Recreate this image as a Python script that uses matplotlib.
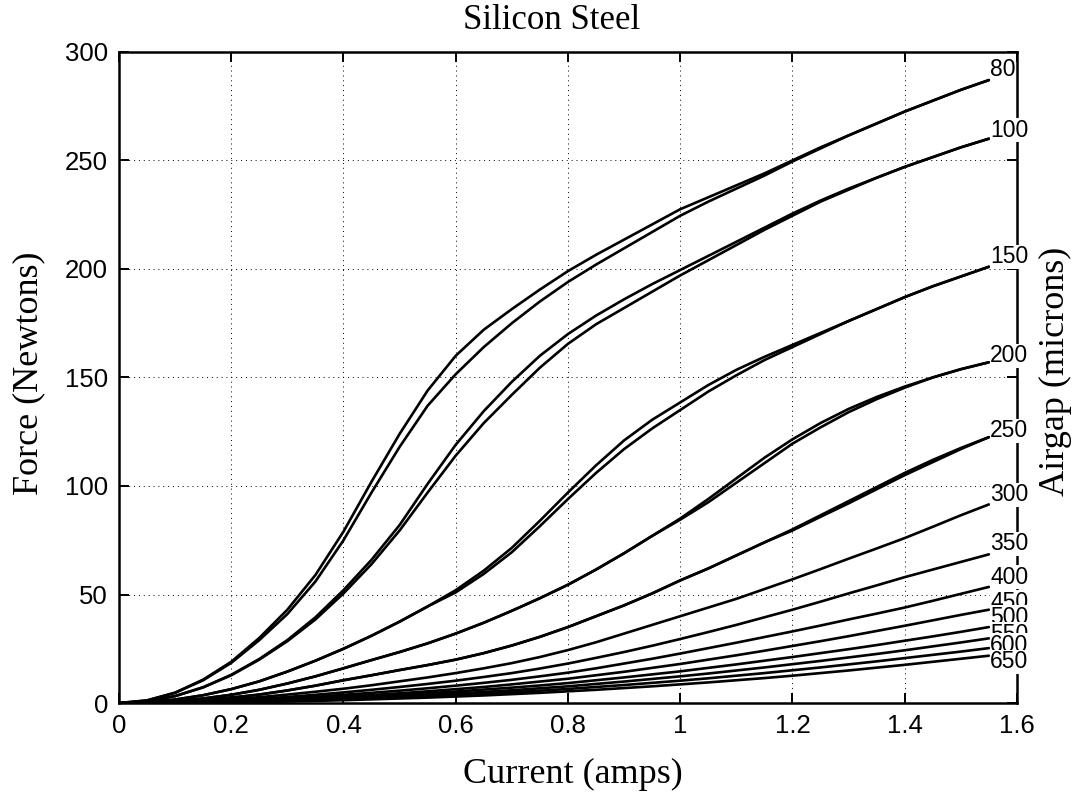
import numpy as np
import matplotlib
matplotlib.use("Agg")
import matplotlib.pyplot as plt

# current (amps) at which each curve was read
current = [0, 0.05, 0.1, 0.15, 0.2, 0.25, 0.3, 0.35, 0.4, 0.45, 0.5, 0.55, 0.6, 0.65, 0.7, 0.75,
           0.8, 0.85, 0.9, 0.95, 1.0, 1.05, 1.1, 1.15, 1.2, 1.25, 1.3, 1.35, 1.4, 1.45, 1.5, 1.55]

airgaps = [80, 100, 150, 200, 250, 300, 350, 400, 450, 500, 550, 600, 650]

# force (newtons), first branch
f80 = [0, 1.2, 4.8, 10.8, 19, 30, 43, 59, 79, 102, 124, 144, 160, 172, 181.5, 190.5,
       199, 206.5, 213.5, 220.5, 227.5, 233, 238.5, 244, 250, 256, 261.5, 267, 272.5, 277.5, 282.5, 287]
f100 = [0, 0.8, 3.2, 7.3, 13, 20.3, 29, 39.5, 52, 66, 82, 101, 119, 134.5, 148, 160,
        170, 178.5, 186, 193, 199.5, 206, 212.5, 219, 225.5, 231.5, 237, 242, 247, 251.5, 256, 260]
f150 = [0, 0.4, 1.6, 3.6, 6.4, 10, 14.5, 19.5, 25, 31, 37.5, 44.5, 52, 61, 71.5, 84,
        97, 109.5, 121, 130.5, 138.5, 146.5, 153.5, 159.5, 165, 170.5, 176, 181.5, 187, 192, 196.5, 201]
f200 = [0, 0.25, 0.9, 2.1, 3.8, 6.1, 9, 12.3, 16, 19.8, 23.5, 27.5, 32, 37, 42.5, 48.3,
        54.5, 61.5, 69, 77, 85, 94, 103.5, 113, 121.5, 129, 135.5, 141, 145.8, 150, 153.8, 157]
f250 = [0, 0.15, 0.6, 1.4, 2.5, 3.9, 5.8, 8, 10.5, 12.8, 15.2, 17.5, 20, 23, 26.5, 30.5,
        35, 40, 45, 50.5, 56.5, 62, 68, 74, 80, 86.5, 93, 99.5, 106, 112, 117.5, 122.5]
f300 = [0, 0.1, 0.4, 1, 1.7, 2.7, 3.9, 5.2, 6.6, 8.2, 10, 11.8, 13.8, 16, 18.4, 21.2,
        24.4, 28, 32, 36, 40, 44, 48, 52.5, 57, 61.7, 66.5, 71.2, 76, 81.2, 86.5, 91.5]
f350 = [0, 0.08, 0.3, 0.7, 1.2, 1.9, 2.8, 3.8, 4.9, 6.1, 7.4, 8.8, 10.3, 12, 13.8, 15.9,
        18.2, 20.8, 23.5, 26.4, 29.5, 32.7, 36, 39.5, 43, 46.7, 50.5, 54.2, 58, 61.5, 65, 68.5]
f400 = [0, 0.05, 0.2, 0.5, 0.9, 1.4, 2.1, 2.9, 3.8, 4.7, 5.7, 6.8, 8, 9.3, 10.7, 12.3,
        14, 16, 18.2, 20.4, 22.8, 25.3, 27.8, 30.4, 33, 35.7, 38.5, 41.2, 44, 47.1, 50.3, 53.5]
f450 = [0, 0.04, 0.2, 0.4, 0.7, 1.2, 1.7, 2.3, 3, 3.7, 4.5, 5.4, 6.4, 7.4, 8.6, 9.9,
        11.2, 12.8, 14.4, 16.2, 18, 20, 22, 24.1, 26.3, 28.5, 30.8, 33.2, 35.6, 38.1, 40.6, 43]
f500 = [0, 0.04, 0.15, 0.35, 0.6, 0.95, 1.4, 1.9, 2.4, 3.1, 3.8, 4.5, 5.3, 6.2, 7.1, 8.1,
        9.2, 10.5, 11.8, 13.2, 14.6, 16.2, 17.8, 19.5, 21.2, 23, 24.8, 26.7, 28.7, 30.7, 32.8, 35]
f550 = [0, 0.03, 0.12, 0.28, 0.5, 0.8, 1.1, 1.5, 2, 2.5, 3.1, 3.7, 4.4, 5.1, 5.9, 6.8,
        7.7, 8.8, 9.9, 11.1, 12.3, 13.6, 15, 16.4, 17.9, 19.4, 21, 22.6, 24.3, 26.1, 27.9, 29.8]
f600 = [0, 0.03, 0.1, 0.22, 0.4, 0.65, 0.9, 1.3, 1.7, 2.1, 2.6, 3.1, 3.7, 4.3, 5, 5.7,
        6.5, 7.4, 8.3, 9.3, 10.3, 11.4, 12.6, 13.8, 15.1, 16.4, 17.8, 19.2, 20.7, 22.2, 23.7, 25.3]
f650 = [0, 0.02, 0.08, 0.18, 0.33, 0.52, 0.75, 1, 1.3, 1.7, 2.1, 2.5, 3, 3.5, 4.1, 4.7,
        5.4, 6.1, 6.9, 7.7, 8.6, 9.5, 10.5, 11.5, 12.6, 13.8, 15, 16.3, 17.6, 19, 20.4, 21.8]

# second branch of the curves that show two lines
f80b = [0, 1.2, 4.7, 10.5, 18.5, 29, 41, 56, 75, 97, 118, 137, 151.5, 164, 175, 185,
        194, 202, 209.5, 217, 224.5, 231, 237, 243, 249.5, 255.5, 261.5, 267, 272.5, 277.5, 282.5, 287]
f100b = [0, 0.8, 3.2, 7.2, 12.8, 20, 28.5, 38.5, 50.5, 64, 79.5, 97, 114, 129, 142, 154.5,
         165.5, 174.5, 182, 189.5, 197, 204, 211, 218, 224.5, 231, 236.5, 242, 247, 251.5, 256, 260]
f150b = [0, 0.4, 1.6, 3.6, 6.4, 10, 14.5, 19.5, 25, 31, 37.5, 44.5, 51, 59.5, 69.5, 81.5,
         94, 106, 117, 126.5, 135, 143.5, 151, 158, 164, 170, 176, 181.5, 187, 192, 196.5, 201]
f200b = [0, 0.25, 0.9, 2.1, 3.8, 6.1, 9, 12.3, 16, 19.8, 23.5, 27.5, 32, 37, 42.5, 48.3,
         54.5, 61.5, 69, 77, 84.5, 92.5, 101.5, 110.5, 119.5, 127, 134, 140, 145.3, 150, 153.8, 157]
f250b = [0, 0.15, 0.6, 1.4, 2.5, 3.9, 5.8, 8, 10.5, 12.8, 15.2, 17.5, 20, 23, 26.5, 30.5,
         35, 40, 45, 50.5, 56.5, 62, 68, 74, 79.5, 85.8, 92, 98.5, 105, 111, 117, 122.5]

forces = [f80, f100, f150, f200, f250, f300, f350, f400, f450, f500, f550, f600, f650]
second = [f80b, f100b, f150b, f200b, f250b]

# label centre height above the line end
label_dy = [5, 4, 4.5, 3, 3, 4.4, 4.8, 4.4, 3.5, 4.6, 2, 1.4, -2.7]

fig = plt.figure(figsize=(10.75, 7.98), dpi=100)
ax = fig.add_axes([0.1107, 0.119, 0.8353, 0.816])

for f in forces + second:
    ax.plot(current, f, color='black', lw=1.9, solid_capstyle='round',
            solid_joinstyle='round')

for gap, f, dy in zip(airgaps, forces, label_dy):
    ax.text(current[-1] + 0.002, f[-1] + dy, str(gap), ha='left', va='center',
            fontsize=16.5, family='Liberation Sans', zorder=5, clip_on=False,
            bbox=dict(facecolor='white', edgecolor='none', pad=0.3))

ax.set_xlim(0, 1.6)
ax.set_ylim(0, 300)
ax.set_xticks([0, 0.2, 0.4, 0.6, 0.8, 1, 1.2, 1.4, 1.6])
ax.set_xticklabels(['0', '0.2', '0.4', '0.6', '0.8', '1', '1.2', '1.4', '1.6'])
ax.set_yticks([0, 50, 100, 150, 200, 250, 300])
ax.grid(True, color='black', linestyle=(0, (1, 4)), lw=0.7)
ax.tick_params(direction='in', length=7, width=1.4, top=True, right=True,
               labelsize=18.5, pad=8)
for lab in ax.get_xticklabels() + ax.get_yticklabels():
    lab.set_family('Liberation Sans')
for sp in ax.spines.values():
    sp.set_linewidth(1.8)

fig.text(0.513, 0.974, 'Silicon Steel', ha='center', va='center',
         fontsize=25, family='Liberation Serif')
fig.text(0.533, 0.029, 'Current (amps)', ha='center', va='center',
         fontsize=26, family='Liberation Serif')
fig.text(0.027, 0.532, 'Force (Newtons)', ha='center', va='center',
         rotation=90, fontsize=26, family='Liberation Serif')
fig.text(0.982, 0.535, 'Airgap (microns)', ha='center', va='center',
         rotation=90, fontsize=26, family='Liberation Serif')

fig.savefig('out.png', dpi=100, facecolor='white')
